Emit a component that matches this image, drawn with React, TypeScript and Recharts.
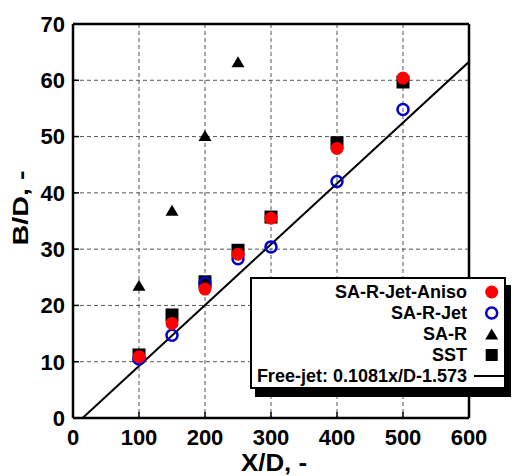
import { ScatterChart, Scatter, XAxis, YAxis, CartesianGrid, Legend, Label } from "recharts";

const FONT = '"Liberation Sans", Arial, sans-serif';

// axis ticks
const xTicks = [0, 100, 200, 300, 400, 500, 600];
const yTicks = [0, 10, 20, 30, 40, 50, 60, 70];

// downstream stations X/D and spread B/D
const stationX = [100, 150, 200, 250, 300, 400, 500];
const anisoB = [10.9, 16.8, 22.9, 29.1, 35.5, 47.9, 60.4];
const jetB = [10.5, 14.7, 24.0, 28.3, 30.4, 42.0, 54.8];
const sstB = [11.2, 18.3, 24.2, 29.8, 35.7, 48.9, 59.7];
const saRX = [100, 150, 200, 250];
const saRB = [23.6, 36.9, 50.2, 63.3];

// free-jet fit 0.1081x/D-1.573, end points
const freeJetX = [14.55, 600];
const freeJetB = [0, 63.29];

const toPoints = (xs: number[], ys: number[]) => xs.map((x, i) => ({ x, y: ys[i] }));

const RedDot = (p: any) => <circle cx={p.cx} cy={p.cy} r={6.5} fill="#ff0000" />;
const BlueRing = (p: any) => (
  <circle cx={p.cx} cy={p.cy} r={5.5} fill="none" stroke="#0000c8" strokeWidth={2.5} />
);
const Tri = (p: any) => (
  <polygon
    points={`${p.cx},${p.cy - 5.5} ${p.cx - 6.5},${p.cy + 5.5} ${p.cx + 6.5},${p.cy + 5.5}`}
    fill="#000"
  />
);
const Sq = (p: any) => <rect x={p.cx - 6.5} y={p.cy - 6.5} width={13} height={13} fill="#000" />;
const NoDot = () => <g />;

const legendRows = [
  { name: "SA-R-Jet-Aniso", mark: <circle cx={24.7} cy={10} r={6.5} fill="#ff0000" /> },
  {
    name: "SA-R-Jet",
    mark: <circle cx={24.7} cy={10} r={5.5} fill="none" stroke="#0000c8" strokeWidth={2.5} />,
  },
  { name: "SA-R", mark: <polygon points="24.7,4.5 18.2,15.5 31.2,15.5" fill="#000" /> },
  { name: "SST", mark: <rect x={18.7} y={4} width={12} height={12} fill="#000" /> },
  {
    name: "Free-jet: 0.1081x/D-1.573",
    mark: <line x1={7} x2={40} y1={10} y2={10} stroke="#000" strokeWidth={2} />,
  },
];

function LegendBox() {
  return (
    <div
      style={{
        boxSizing: "border-box",
        width: 256,
        height: 112,
        border: "2px solid #000",
        background: "#fff",
        boxShadow: "5px 8px 0 #000",
        paddingTop: 3,
        fontFamily: FONT,
        fontWeight: "bold",
        fontSize: 18,
        color: "#000",
      }}
    >
      {legendRows.map((r) => (
        <div key={r.name} style={{ display: "flex", alignItems: "center", height: 20.8 }}>
          <span style={{ width: 215, textAlign: "right", whiteSpace: "nowrap", lineHeight: "20px" }}>
            {r.name}
          </span>
          <svg width={37} height={20} style={{ overflow: "visible" }}>
            {r.mark}
          </svg>
        </div>
      ))}
    </div>
  );
}

const axisLine = { stroke: "#000", strokeWidth: 2.5 };
const tickLine = { stroke: "#000", strokeWidth: 1.5 };
const tickFont = { fontSize: 22, fontWeight: "bold", fill: "#000", fontFamily: FONT };

export default function App() {
  return (
    <div style={{ width: 514, height: 476, position: "relative", background: "#fff" }}>
      <style>{"body{margin:0}"}</style>
      <ScatterChart width={514} height={476} margin={{ top: 0, right: 0, left: 0, bottom: 0 }}>
        <CartesianGrid stroke="#555" strokeDasharray="4 3" strokeWidth={1} />
        <XAxis
          type="number"
          dataKey="x"
          domain={[0, 600]}
          ticks={xTicks}
          interval={0}
          allowDataOverflow
          height={58}
          tickSize={-6}
          tickMargin={17}
          axisLine={axisLine}
          tickLine={tickLine}
          tick={tickFont}
        >
          <Label
            content={(props: any) => {
              const vb = props.viewBox;
              return (
                <text
                  x={vb.x + vb.width / 2 + 3}
                  y={vb.y + 53}
                  textAnchor="middle"
                  textLength={66}
                  lengthAdjust="spacingAndGlyphs"
                  fontFamily={FONT}
                  fontWeight="bold"
                  fontSize={23}
                  fill="#000"
                >
                  X/D, -
                </text>
              );
            }}
          />
        </XAxis>
        <XAxis
          xAxisId="top"
          orientation="top"
          type="number"
          domain={[0, 600]}
          ticks={xTicks}
          interval={0}
          allowDataOverflow
          height={24}
          tickSize={-6}
          tick={false}
          axisLine={axisLine}
          tickLine={tickLine}
        />
        <YAxis
          type="number"
          dataKey="y"
          domain={[0, 70]}
          ticks={yTicks}
          interval={0}
          allowDataOverflow
          width={73}
          tickSize={-6}
          tickMargin={14}
          axisLine={axisLine}
          tickLine={tickLine}
          tick={tickFont}
        >
          <Label
            content={(props: any) => {
              const vb = props.viewBox;
              const cy = vb.y + vb.height / 2 - 13;
              return (
                <text
                  x={28}
                  y={cy}
                  transform={`rotate(-90 28 ${cy})`}
                  textAnchor="middle"
                  textLength={75}
                  lengthAdjust="spacingAndGlyphs"
                  fontFamily={FONT}
                  fontWeight="bold"
                  fontSize={22}
                  fill="#000"
                >
                  B/D, -
                </text>
              );
            }}
          />
        </YAxis>
        <YAxis
          yAxisId="right"
          orientation="right"
          type="number"
          domain={[0, 70]}
          ticks={yTicks}
          interval={0}
          allowDataOverflow
          width={45}
          tickSize={-6}
          tick={false}
          axisLine={axisLine}
          tickLine={tickLine}
        />
        <Scatter
          name="Free-jet"
          data={toPoints(freeJetX, freeJetB)}
          line={{ stroke: "#000", strokeWidth: 2 }}
          shape={NoDot}
          isAnimationActive={false}
        />
        <Scatter name="SST" data={toPoints(stationX, sstB)} shape={Sq} isAnimationActive={false} />
        <Scatter name="SA-R" data={toPoints(saRX, saRB)} shape={Tri} isAnimationActive={false} />
        <Scatter name="SA-R-Jet" data={toPoints(stationX, jetB)} shape={BlueRing} isAnimationActive={false} />
        <Scatter name="SA-R-Jet-Aniso" data={toPoints(stationX, anisoB)} shape={RedDot} isAnimationActive={false} />
        <Legend
          layout="horizontal"
          verticalAlign="middle"
          align="center"
          wrapperStyle={{ left: 250, top: 277, width: 256, height: 112 }}
          content={() => <LegendBox />}
        />
      </ScatterChart>
    </div>
  );
}
